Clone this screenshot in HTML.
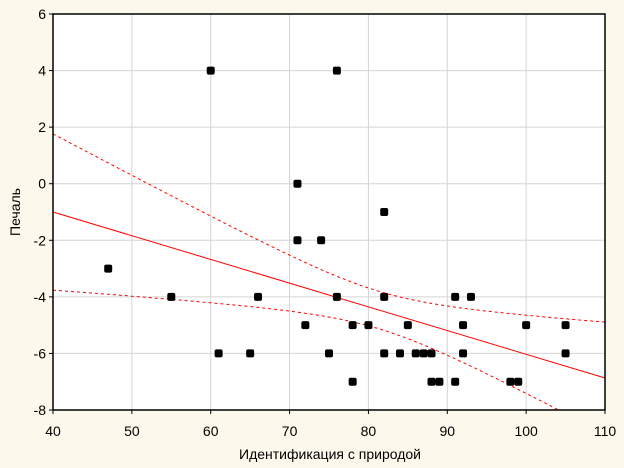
<!DOCTYPE html>
<html><head><meta charset="utf-8"><style>
html,body{margin:0;padding:0;background:#fdf8ec;}
svg{display:block;font-family:"Liberation Sans",sans-serif;}
</style></head><body>
<svg id="s" width="624" height="468" xmlns="http://www.w3.org/2000/svg">
<rect width="624" height="468" fill="#fdf8ec"/>
<rect x="53" y="14" width="552" height="396" fill="#fff"/>
<g id="g"></g>
<rect x="53" y="14" width="552" height="396" fill="none" stroke="#000" stroke-width="1.5"/>
<text x="330" y="459" font-size="14" text-anchor="middle">Идентификация с природой</text>
<text transform="translate(20,212) rotate(-90)" font-size="14" text-anchor="middle">Печаль</text>
</svg>
<script>
const g=document.getElementById('g');
const X=x=>53+(x-40)*552/70, Y=y=>14+(6-y)*396/14;
let h='';
for(let x=40;x<=110;x+=10){const px=X(x);if(x>40&&x<110)h+=`<line x1="${px}" y1="14" x2="${px}" y2="410" stroke="#d4d4d4"/>`;
h+=`<line x1="${px}" y1="410" x2="${px}" y2="414" stroke="#000"/><text x="${px}" y="436" font-size="14" text-anchor="middle">${x}</text>`;}
for(let y=-8;y<=6;y+=2){const py=Y(y);if(y>-8&&y<6)h+=`<line x1="53" y1="${py}" x2="605" y2="${py}" stroke="#d4d4d4"/>`;
h+=`<line x1="49" y1="${py}" x2="53" y2="${py}" stroke="#000"/><text x="46" y="${py+5}" font-size="14" text-anchor="end">${y}</text>`;}
const f=x=>-1-5.87*(x-40)/70, hw=x=>Math.sqrt(0.44+0.00421*(x-81.3)**2);
h+=`<line x1="${X(40)}" y1="${Y(f(40))}" x2="${X(110)}" y2="${Y(f(110))}" stroke="#f00" stroke-width="1"/>`;
let u='',l='';
for(let x=40;x<=110;x+=0.5){u+=(u?'L':'M')+X(x).toFixed(1)+','+Y(f(x)+hw(x)).toFixed(1);l+=(l?'L':'M')+X(x).toFixed(1)+','+Math.min(410,Y(f(x)-hw(x))).toFixed(1);}
h+=`<clipPath id="c"><rect x="53" y="14" width="552" height="396"/></clipPath>`;
h+=`<g clip-path="url(#c)"><path d="${u}" fill="none" stroke="#f00" stroke-dasharray="3,3"/><path d="${l}" fill="none" stroke="#f00" stroke-dasharray="3,3"/></g>`;
const p=[[47,-3],[55,-4],[60,4],[61,-6],[65,-6],[66,-4],[71,0],[71,-2],[72,-5],[74,-2],[75,-6],[76,4],[76,-4],[78,-5],[78,-7],[80,-5],[82,-1],[82,-4],[82,-6],[84,-6],[85,-5],[86,-6],[87,-6],[88,-6],[88,-7],[89,-7],[91,-4],[91,-7],[92,-5],[92,-6],[93,-4],[98,-7],[99,-7],[100,-5],[105,-5],[105,-6]];
for(const [x,y] of p)h+=`<rect x="${X(x)-4}" y="${Y(y)-4}" width="8" height="8" rx="2" fill="#000"/>`;
g.innerHTML=h;
</script>
</body></html>
